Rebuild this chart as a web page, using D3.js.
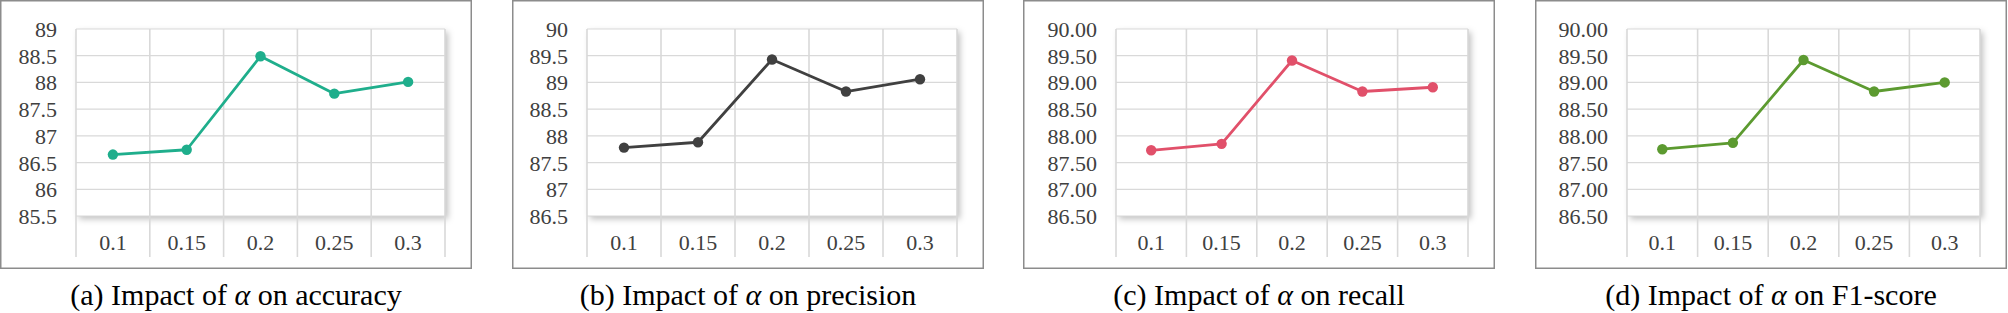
<!DOCTYPE html>
<html>
<head>
<meta charset="utf-8">
<script src="https://cdn.jsdelivr.net/npm/d3@7"></script>
<style>
  body { margin: 0; background: #fff; }
  svg { display: block; }
</style>
</head>
<body>
<div id="chart"></div>
<script>
// values
const alphas = ["0.1", "0.15", "0.2", "0.25", "0.3"];
const accuracy = [86.65, 86.74, 88.49, 87.79, 88.01];
const precision = [87.78, 87.88, 89.43, 88.83, 89.06];
const recall = [87.73, 87.85, 89.41, 88.83, 88.91];
const f1score = [87.75, 87.87, 89.42, 88.83, 89.00];

const accTicks = [85.5, 86, 86.5, 87, 87.5, 88, 88.5, 89];
const restTicks = [86.5, 87, 87.5, 88, 88.5, 89, 89.5, 90];

const captions = ["(a) Impact of ", "(b) Impact of ", "(c) Impact of ", "(d) Impact of "];
const captionEnds = [" on accuracy", " on precision", " on recall", " on F1-score"];

const FONT = "Liberation Serif";

const panels = [
  { values: accuracy,  ticks: accTicks,  fmt: d3.format(""),    color: "#1fae8c", x0: 0,    left: 76 },
  { values: precision, ticks: restTicks, fmt: d3.format(""),    color: "#404040", x0: 512,  left: 75 },
  { values: recall,    ticks: restTicks, fmt: d3.format(".2f"), color: "#e1506a", x0: 1023, left: 93 },
  { values: f1score,   ticks: restTicks, fmt: d3.format(".2f"), color: "#5c9a30", x0: 1535, left: 92 }
];

const W = 2008, H = 313;
const frameW = 472, frameH = 269;
const plotRight = 445, plotTop = 29, plotBottom = 216, gridBottom = 257;

const svg = d3.select("#chart").append("svg")
  .attr("width", W)
  .attr("height", H);

// soft shadow under the plot area
const filt = svg.append("defs").append("filter")
  .attr("id", "shadow")
  .attr("x", "-5%").attr("y", "-5%")
  .attr("width", "115%").attr("height", "120%");
filt.append("feDropShadow")
  .attr("dx", 3).attr("dy", 3)
  .attr("stdDeviation", 3)
  .attr("flood-color", "#000")
  .attr("flood-opacity", 0.25);

panels.forEach((p, i) => {
  const g = svg.append("g").attr("transform", `translate(${p.x0},0)`);

  g.append("rect")
    .attr("x", 0.75).attr("y", 0.75)
    .attr("width", frameW - 1.5).attr("height", frameH - 1.5)
    .attr("fill", "#fff")
    .attr("stroke", "#8c8c8c")
    .attr("stroke-width", 1.5);

  const x = d3.scaleBand()
    .domain(alphas)
    .range([p.left, plotRight]);

  const y = d3.scaleLinear()
    .domain([p.ticks[0], p.ticks[p.ticks.length - 1]])
    .range([plotBottom, plotTop]);

  g.append("rect")
    .attr("x", p.left).attr("y", plotTop)
    .attr("width", plotRight - p.left).attr("height", plotBottom - plotTop)
    .attr("fill", "#fff")
    .attr("filter", "url(#shadow)");

  // horizontal grid
  g.append("g").selectAll("line")
    .data(p.ticks)
    .join("line")
    .attr("x1", p.left).attr("x2", plotRight)
    .attr("y1", d => y(d)).attr("y2", d => y(d))
    .attr("stroke", "#d9d9d9")
    .attr("stroke-width", 1.2);

  // vertical grid at band edges, running down through the label row
  const edges = alphas.map(a => x(a)).concat([x.range()[1]]);
  g.append("g").selectAll("line")
    .data(edges)
    .join("line")
    .attr("x1", d => d).attr("x2", d => d)
    .attr("y1", plotTop).attr("y2", gridBottom)
    .attr("stroke", "#d9d9d9")
    .attr("stroke-width", 1.6);

  // y tick labels
  const yAxis = g.append("g")
    .attr("transform", `translate(${p.left - 19},0)`)
    .call(d3.axisLeft(y).tickValues(p.ticks).tickFormat(p.fmt).tickSize(0).tickPadding(0))
    .attr("font-family", FONT);
  yAxis.select(".domain").remove();
  yAxis.selectAll("text")
    .attr("font-family", FONT)
    .attr("font-size", 22)
    .attr("fill", "#404040")
    .attr("dy", "0.34em");

  // x tick labels
  const xAxis = g.append("g")
    .attr("transform", `translate(0,${gridBottom - 22})`)
    .call(d3.axisBottom(x).tickSize(0).tickPadding(0))
    .attr("font-family", FONT);
  xAxis.select(".domain").remove();
  xAxis.selectAll("text")
    .attr("font-family", FONT)
    .attr("font-size", 22)
    .attr("fill", "#404040")
    .attr("dy", "0.7em");

  const cx = d => x(d) + x.bandwidth() / 2;

  const line = d3.line()
    .x((d, j) => cx(alphas[j]))
    .y(d => y(d));

  g.append("path")
    .datum(p.values)
    .attr("d", line)
    .attr("fill", "none")
    .attr("stroke", p.color)
    .attr("stroke-width", 2.8)
    .attr("stroke-linejoin", "round");

  g.selectAll("circle")
    .data(p.values)
    .join("circle")
    .attr("cx", (d, j) => cx(alphas[j]))
    .attr("cy", d => y(d))
    .attr("r", 5.2)
    .attr("fill", p.color);

  // caption below the frame
  const cap = g.append("text")
    .attr("x", frameW / 2)
    .attr("y", 305)
    .attr("text-anchor", "middle")
    .attr("font-family", FONT)
    .attr("font-size", 30)
    .attr("fill", "#000");
  cap.append("tspan").text(captions[i]);
  cap.append("tspan").attr("font-style", "italic").text("α");
  cap.append("tspan").text(captionEnds[i]);
});
</script>
</body>
</html>
